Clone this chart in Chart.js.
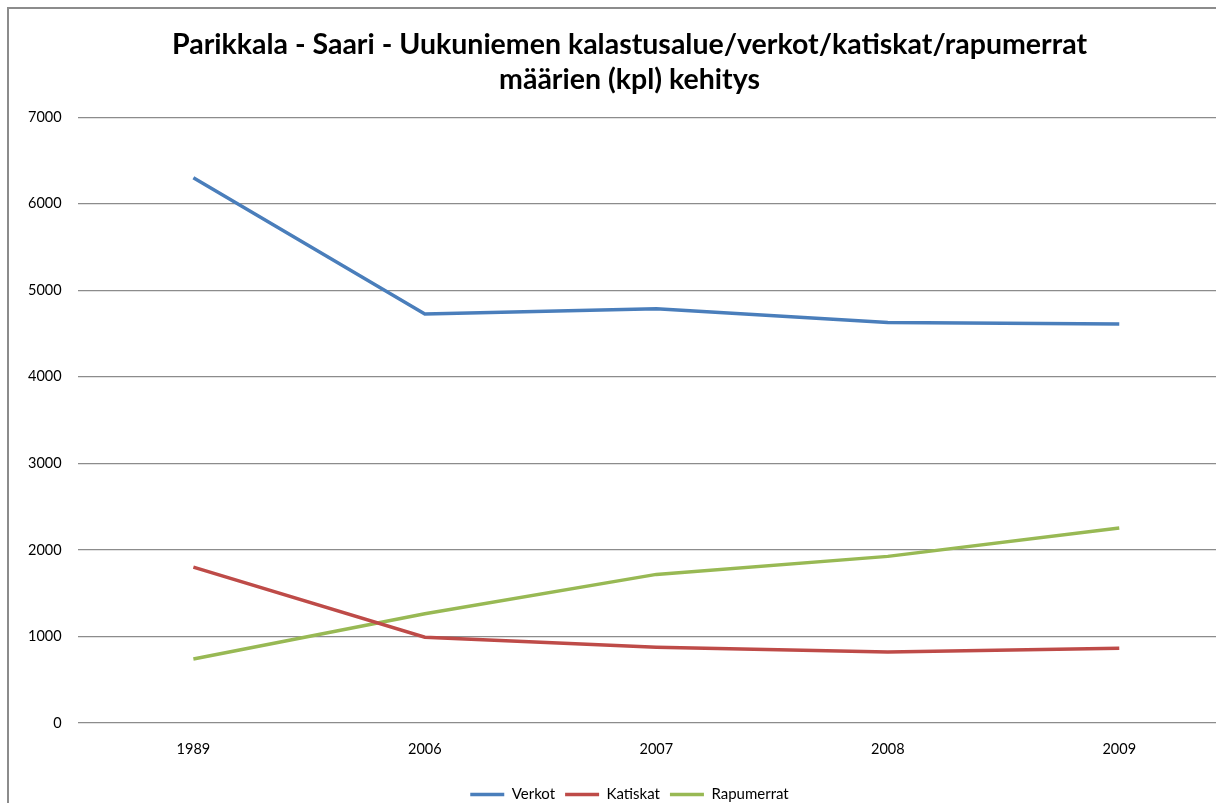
<!DOCTYPE html>
<html>
<head>
<meta charset="utf-8">
<script src="https://cdn.jsdelivr.net/npm/chart.js@4"></script>
<style>
    html, body { margin: 0; padding: 0; background: #fff; overflow: hidden; }
    #frame {
        position: absolute; left: 7px; top: 7px;
        width: 1243px; height: 820px;
        border: 2px solid #8c8c8c;
        background: #fff;
    }
    #wrap { position: absolute; left: 0; top: 0; width: 1243px; height: 803px; }
</style>
</head>
<body>
<div id="frame"><div id="wrap"><canvas id="LineChart"></canvas></div></div>
<script>
// vuodet ja määrät (kpl), luettu kuvasta
var years = ["1989", "2006", "2007", "2008", "2009"];
var verkot = [6300, 4725, 4785, 4627, 4610];
var katiskat = [1800, 992, 876, 819, 865];
var rapumerrat = [740, 1262, 1717, 1925, 2252];
var yTicks = [0, 1000, 2000, 3000, 4000, 5000, 6000, 7000];

var chartTitle = ["Parikkala - Saari - Uukuniemen kalastusalue/verkot/katiskat/rapumerrat", "määrien (kpl) kehitys"];

function bindLineChart() {
    var ctx = document.getElementById("LineChart").getContext('2d');
    var myChart = new Chart(ctx, {
        type: 'line',
        data: {
            labels: years,
            datasets: [{
                label: "Verkot",
                data: verkot,
                borderColor: "#4a7ebb",
                backgroundColor: "#4a7ebb",
                borderWidth: 3.5
            }, {
                label: "Katiskat",
                data: katiskat,
                borderColor: "#be4b48",
                backgroundColor: "#be4b48",
                borderWidth: 3.5
            }, {
                label: "Rapumerrat",
                data: rapumerrat,
                borderColor: "#98b954",
                backgroundColor: "#98b954",
                borderWidth: 3.5
            }]
        },
        options: {
            responsive: true,
            maintainAspectRatio: false,
            animation: false,
            layout: { padding: { left: 3, right: 5, top: 0, bottom: 0 } },
            elements: {
                line: { tension: 0 },
                point: { radius: 0, hoverRadius: 0 }
            },
            plugins: {
                title: {
                    display: true,
                    text: chartTitle,
                    color: '#000',
                    font: { family: 'Lato', size: 28.5, weight: 'bold', lineHeight: 1.23 },
                    padding: { top: 18, bottom: 20 }
                },
                legend: {
                    position: 'bottom',
                    labels: {
                        usePointStyle: true,
                        pointStyle: 'line',
                        pointStyleWidth: 34,
                        color: '#000',
                        font: { family: 'Lato', size: 15 },
                        padding: 10
                    }
                },
                tooltip: { enabled: false }
            },
            scales: {
                x: {
                    offset: true,
                    grid: { display: false, drawTicks: false },
                    border: { display: false },
                    ticks: { color: '#000', font: { family: 'Lato', size: 14.5, lineHeight: 1.91 }, padding: 12 },
                    afterFit: function (axis) { axis.height = 54; }
                },
                y: {
                    min: 0,
                    max: 7000,
                    afterBuildTicks: function (axis) {
                        axis.ticks = yTicks.map(function (v) { return { value: v }; });
                    },
                    grid: { color: '#8c8c8c', lineWidth: 1.2, drawTicks: false },
                    border: { display: false },
                    ticks: {
                        color: '#000',
                        font: { family: 'Lato', size: 14.5 },
                        padding: 16,
                        callback: function (value) { return String(value); }
                    }
                },
                // tyhjä oikea akseli, jotta otsikko keskittyy koko kuvaan
                yRight: {
                    position: 'right',
                    grid: { display: false, drawTicks: false },
                    border: { display: false },
                    ticks: { display: false },
                    afterFit: function (axis) { axis.width = 12; }
                }
            }
        }
    });
}

bindLineChart();
</script>
</body>
</html>
